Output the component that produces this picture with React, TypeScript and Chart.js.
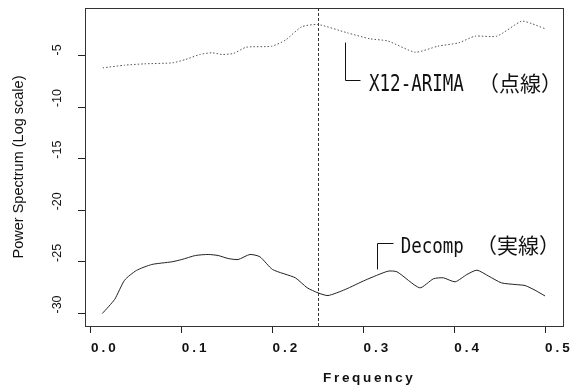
import React, { useEffect, useRef } from "react";
import { Chart, registerables } from "chart.js";

Chart.register(...registerables);

// ---- data ----
const ARIMA_FREQ = [0.013, 0.037, 0.059, 0.09, 0.104, 0.12, 0.133, 0.144, 0.157, 0.171, 0.199, 0.214, 0.232, 0.25, 0.282, 0.307, 0.327, 0.357, 0.382, 0.405, 0.423, 0.447, 0.474, 0.485, 0.5];
const ARIMA_POWER = [-6.2, -5.94, -5.81, -5.71, -5.39, -4.9, -4.74, -4.9, -4.8, -4.2, -4.1, -3.52, -2.22, -2.0, -2.8, -3.38, -3.6, -4.68, -4.1, -3.77, -3.13, -3.13, -1.68, -1.9, -2.41];

const DECOMP_FREQ = [0.0125, 0.026, 0.037, 0.05, 0.067, 0.089, 0.1, 0.115, 0.129, 0.14, 0.151, 0.162, 0.175, 0.186, 0.2, 0.225, 0.238, 0.25, 0.261, 0.28, 0.302, 0.327, 0.337, 0.362, 0.377, 0.388, 0.401, 0.414, 0.425, 0.438, 0.452, 0.467, 0.478, 0.489, 0.5];
const DECOMP_POWER = [-30.0, -28.64, -26.77, -25.83, -25.25, -24.99, -24.77, -24.38, -24.28, -24.38, -24.67, -24.77, -24.28, -24.5, -25.74, -26.54, -27.5, -28.0, -28.26, -27.67, -26.77, -25.9, -25.96, -27.51, -26.64, -26.54, -26.93, -26.22, -25.8, -26.38, -27.03, -27.19, -27.29, -27.74, -28.3];

const X_TICKS = [0, 0.1, 0.2, 0.3, 0.4, 0.5];
const Y_TICKS = [-30, -25, -20, -15, -10, -5];
const X_RANGE = [-0.0066, 0.5198];
const Y_RANGE = [-31.21, -0.4];
const CUTOFF_FREQ = [0.25];

const X_TITLE = "Frequency";
const Y_TITLE = "Power Spectrum (Log scale)";
const ARIMA_LABEL = ["X12-ARIMA", "（点線）"];
const DECOMP_LABEL = ["Decomp", "（実線）"];

const LATIN_FONT = "17.5px 'DejaVu Sans Mono', monospace";
const CJK_FONT = "21px 'Noto Sans CJK JP', sans-serif";

const overlayPlugin = {
  id: "overlay",
  beforeDraw(chart: any) {
    chart.ctx.letterSpacing = "0px";
  },
  beforeDatasetsDraw(chart: any) {
    const { ctx, chartArea, scales } = chart;
    const xs = scales.x;
    ctx.save();
    ctx.strokeStyle = "#333";
    ctx.lineWidth = 1;
    ctx.setLineDash([3, 2]);
    CUTOFF_FREQ.forEach((f) => {
      const px = Math.round(xs.getPixelForValue(f)) + 0.5;
      ctx.beginPath();
      ctx.moveTo(px, chartArea.top);
      ctx.lineTo(px, chartArea.bottom);
      ctx.stroke();
    });
    ctx.restore();
  },
  afterDatasetsDraw(chart: any) {
    // letter spacing for the x tick labels, drawn after the datasets
    chart.ctx.letterSpacing = "3px";
  },
  afterDraw(chart: any) {
    const { ctx, chartArea, scales } = chart;
    const xs = scales.x;
    const ys = scales.y;
    ctx.letterSpacing = "0px";
    ctx.save();
    // box
    ctx.strokeStyle = "#333";
    ctx.lineWidth = 1;
    ctx.setLineDash([]);
    ctx.strokeRect(
      Math.round(chartArea.left) + 0.5,
      Math.round(chartArea.top) + 0.5,
      Math.round(chartArea.right - chartArea.left),
      Math.round(chartArea.bottom - chartArea.top)
    );

    // axis titles
    ctx.fillStyle = "#111";
    ctx.font = "bold 13.5px 'Liberation Sans', Arial, sans-serif";
    ctx.letterSpacing = "2.7px";
    ctx.textAlign = "left";
    ctx.textBaseline = "alphabetic";
    const cx = (chartArea.left + chartArea.right) / 2;
    ctx.fillText(X_TITLE, cx - 1, 382);
    ctx.letterSpacing = "0px";

    ctx.save();
    ctx.font = "14.5px 'Liberation Sans', Arial, sans-serif";
    ctx.translate(22.5, (chartArea.top + chartArea.bottom) / 2);
    ctx.rotate(-Math.PI / 2);
    ctx.textAlign = "center";
    ctx.fillText(Y_TITLE, 0, 0);
    ctx.restore();

    // annotation brackets
    const P = (fx: number, vy: number) => [xs.getPixelForValue(fx), ys.getPixelForValue(vy)];
    ctx.strokeStyle = "#111";
    ctx.lineWidth = 1;
    const bracket = (pts: number[][]) => {
      ctx.beginPath();
      pts.forEach(([a, b], i) => {
        const xx = Math.round(a) + 0.5;
        const yy = Math.round(b) + 0.5;
        if (i === 0) ctx.moveTo(xx, yy);
        else ctx.lineTo(xx, yy);
      });
      ctx.stroke();
    };
    bracket([P(0.2797, -3.74), P(0.2797, -7.42), P(0.2963, -7.42)]);
    bracket([P(0.315, -25.64), P(0.315, -23.12), P(0.3326, -23.12)]);

    const label = (parts: string[], fLatin: number, fCjk: number, vBase: number, sy: number) => {
      const [lx, by] = P(fLatin, vBase);
      const [cxp] = P(fCjk, vBase);
      ctx.save();
      ctx.fillStyle = "#111";
      ctx.font = LATIN_FONT;
      ctx.textAlign = "left";
      ctx.textBaseline = "alphabetic";
      ctx.translate(lx, by);
      ctx.scale(1, sy);
      ctx.fillText(parts[0], 0, 0);
      ctx.restore();
      ctx.save();
      ctx.fillStyle = "#111";
      ctx.font = CJK_FONT;
      ctx.textAlign = "left";
      ctx.textBaseline = "alphabetic";
      ctx.fillText(parts[1], cxp, by);
      ctx.restore();
    };
    label(ARIMA_LABEL, 0.3062, 0.4262, -8.49, 1.3);
    label(DECOMP_LABEL, 0.341, 0.424, -24.14, 1.25);

    ctx.restore();
  },
};

export default function App() {
  const ref = useRef<HTMLCanvasElement | null>(null);

  useEffect(() => {
    if (!ref.current) return;
    const chart = new Chart(ref.current, {
      type: "line",
      data: {
        datasets: [
          {
            label: "X12-ARIMA",
            data: ARIMA_FREQ.map((f, i) => ({ x: f, y: ARIMA_POWER[i] })),
            borderColor: "#555",
            borderWidth: 1,
            borderDash: [1.5, 2],
            pointRadius: 0,
            tension: 0.2,
            fill: false,
          },
          {
            label: "Decomp",
            data: DECOMP_FREQ.map((f, i) => ({ x: f, y: DECOMP_POWER[i] })),
            borderColor: "#222",
            borderWidth: 1,
            pointRadius: 0,
            tension: 0.2,
            fill: false,
          },
        ],
      },
      options: {
        animation: false,
        responsive: false,
        events: [],
        layout: { padding: { left: 51, top: 8, right: 9, bottom: 0 } },
        plugins: { legend: { display: false }, tooltip: { enabled: false } },
        scales: {
          x: {
            type: "linear",
            min: X_RANGE[0],
            max: X_RANGE[1],
            afterBuildTicks: (s: any) => {
              s.ticks = X_TICKS.map((v) => ({ value: v }));
            },
            afterFit: (s: any) => {
              s.height = 59;
            },
            grid: { display: true, drawOnChartArea: false, drawTicks: true, tickLength: 7, color: "#222", z: 0 },
            border: { display: false },
            ticks: {
              z: 1,
              autoSkip: false,
              align: "start",
              maxRotation: 0,
              minRotation: 0,
              padding: 7,
              color: "#111",
              font: { family: "'Liberation Sans', Arial, sans-serif", size: 13.5, weight: "bold" },
              callback: (v: any) => Number(v).toFixed(1),
            },
          },
          y: {
            type: "linear",
            min: Y_RANGE[0],
            max: Y_RANGE[1],
            afterBuildTicks: (s: any) => {
              s.ticks = Y_TICKS.map((v) => ({ value: v }));
            },
            afterFit: (s: any) => {
              s.width = 34;
            },
            grid: { display: true, drawOnChartArea: false, drawTicks: true, tickLength: 7, color: "#222" },
            border: { display: false },
            ticks: {
              autoSkip: false,
              minRotation: 90,
              maxRotation: 90,
              crossAlign: "far",
              align: "start",
              padding: 0,
              color: "#111",
              font: { family: "'Liberation Sans', Arial, sans-serif", size: 12.5 },
              callback: (v: any) => String(v),
            },
          },
        },
      },
      plugins: [overlayPlugin],
    } as any);
    return () => chart.destroy();
  }, []);

  return (
    <div style={{ position: "absolute", left: 0, top: 0, width: 572, height: 385, background: "#fff" }}>
      <canvas ref={ref} width={572} height={385} style={{ width: 572, height: 385, display: "block" }} />
    </div>
  );
}
